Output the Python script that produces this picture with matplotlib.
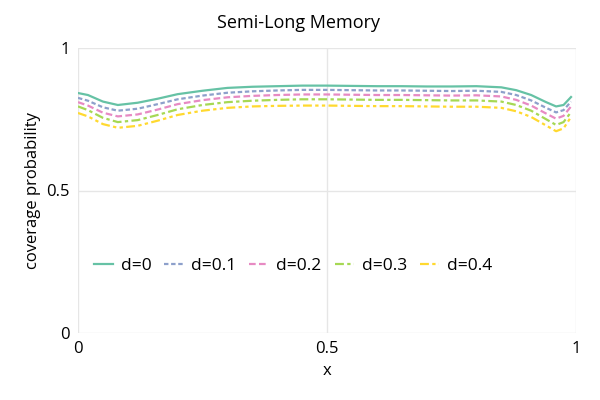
import matplotlib
matplotlib.use('Agg')
import matplotlib.pyplot as plt

plt.rcParams['font.family'] = ['Open Sans', 'DejaVu Sans']

x = [0.0, 0.02, 0.05, 0.08, 0.12, 0.16, 0.2, 0.25, 0.3, 0.35, 0.4, 0.45, 0.5,
     0.55, 0.6, 0.65, 0.7, 0.75, 0.8, 0.85, 0.88, 0.91, 0.94, 0.96, 0.975, 0.99]

cov_d0 = [0.842, 0.835, 0.812, 0.800, 0.808, 0.822, 0.838, 0.850, 0.860, 0.864, 0.866, 0.868, 0.868,
          0.867, 0.866, 0.866, 0.865, 0.865, 0.866, 0.862, 0.852, 0.835, 0.810, 0.795, 0.800, 0.828]
cov_d01 = [0.825, 0.815, 0.792, 0.780, 0.787, 0.803, 0.820, 0.833, 0.843, 0.848, 0.851, 0.853, 0.853,
           0.852, 0.851, 0.851, 0.850, 0.849, 0.850, 0.846, 0.835, 0.816, 0.790, 0.774, 0.782, 0.812]
cov_d02 = [0.810, 0.798, 0.773, 0.760, 0.767, 0.784, 0.803, 0.817, 0.827, 0.832, 0.835, 0.837, 0.837,
           0.836, 0.835, 0.835, 0.834, 0.833, 0.834, 0.830, 0.818, 0.798, 0.770, 0.752, 0.762, 0.795]
cov_d03 = [0.795, 0.782, 0.755, 0.740, 0.747, 0.765, 0.785, 0.800, 0.810, 0.815, 0.818, 0.820, 0.820,
           0.819, 0.818, 0.818, 0.817, 0.816, 0.816, 0.812, 0.800, 0.780, 0.750, 0.730, 0.740, 0.775]
cov_d04 = [0.772, 0.760, 0.733, 0.720, 0.727, 0.745, 0.765, 0.780, 0.790, 0.795, 0.797, 0.798, 0.798,
           0.797, 0.796, 0.796, 0.795, 0.794, 0.794, 0.790, 0.778, 0.758, 0.728, 0.708, 0.718, 0.758]

labels = ['d=0', 'd=0.1', 'd=0.2', 'd=0.3', 'd=0.4']
series = [cov_d0, cov_d01, cov_d02, cov_d03, cov_d04]
colors = ['#66c2a5', '#8da0cb', '#e78ac3', '#a6d854', '#ffd92f']
styles = ['-', (0, (2, 1.2)), (0, (3, 1.5)), (0, (4, 1.5, 1.5, 1.5)), (0, (4, 1.5, 1.5, 1.5, 1.5, 1.5))]

fig = plt.figure(figsize=(6, 4), dpi=100)
ax = fig.add_axes([0.13, 0.1675, 0.83, 0.7125])

for y, lab, c, ls in zip(series, labels, colors, styles):
    ax.plot(x, y, color=c, linestyle=ls, linewidth=1.6, label=lab)

ax.set_xlim(0, 1)
ax.set_ylim(0, 1)
ax.set_xticks([0, 0.5, 1])
ax.set_xticklabels(['0', '0.5', '1'])
ax.set_yticks([0, 0.5, 1])
ax.set_yticklabels(['0', '0.5', '1'])
ax.grid(True, color='#e6e6e6', linewidth=1)
ax.set_axisbelow(True)
for s in ax.spines.values():
    s.set_visible(False)
ax.tick_params(length=0, labelsize=12, pad=6)

fig.suptitle('Semi-Long Memory', fontsize=13, x=0.497, y=0.965)
ax.set_xlabel('x', fontsize=12)
ax.set_ylabel('coverage probability', fontsize=12)

ax.legend(loc='center left', bbox_to_anchor=(0.0, 0.235), ncol=5, frameon=False,
          fontsize=12.5, handlelength=1.1, handletextpad=0.45, columnspacing=0.75)

plt.savefig('out.png', dpi=100)
plt.close()
